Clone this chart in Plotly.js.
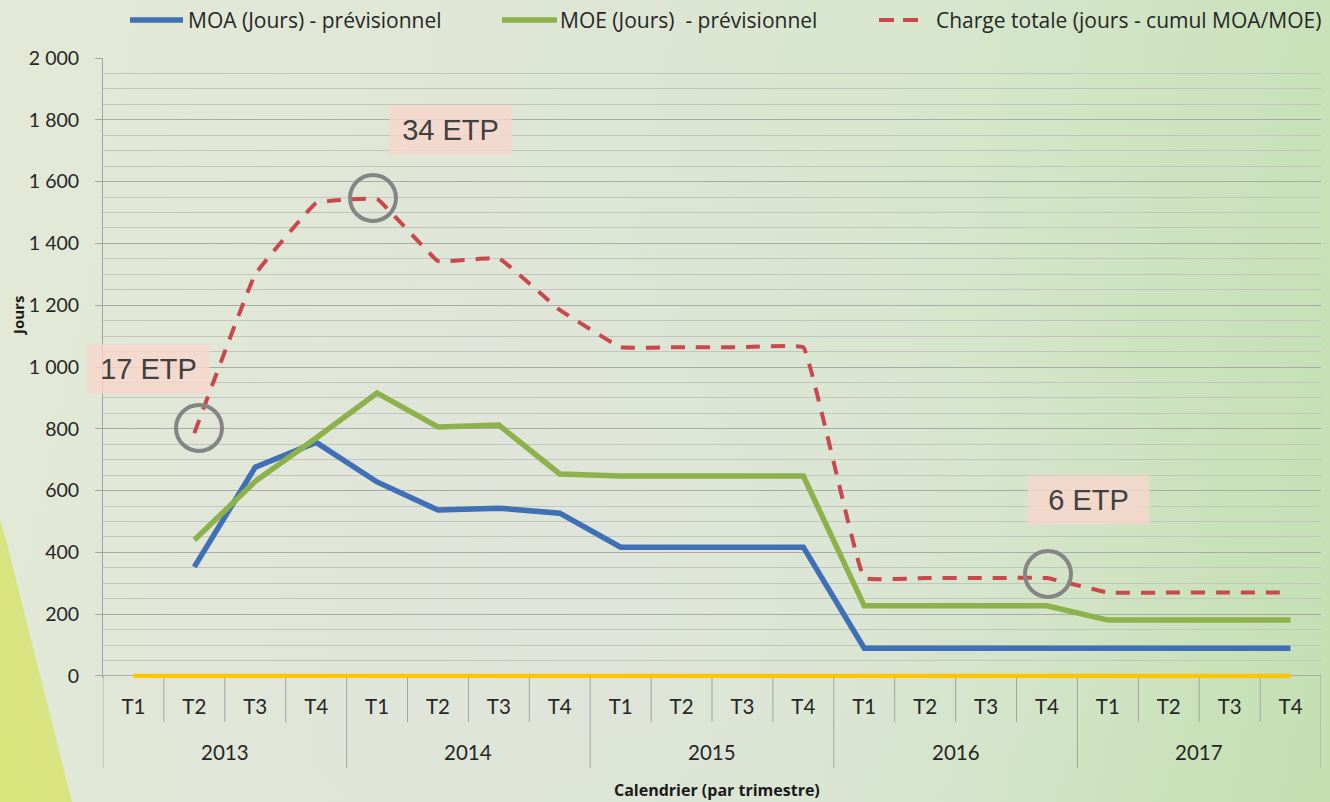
<!DOCTYPE html>
<html>
<head>
<meta charset="utf-8">
<script src="https://cdn.plot.ly/plotly-3.0.1.min.js"></script>
<style>
  html, body { margin: 0; padding: 0; }
  body { width: 1330px; height: 802px; overflow: hidden; position: relative;
    background: linear-gradient(100deg, #e3e9d6 0%, #dfe6d6 35%, #d6e6cc 65%, #c4e0b2 100%); }
  #wedge { position: absolute; left: 0; top: 0; width: 1330px; height: 802px;
    background: #d8e47c; clip-path: polygon(0px 520px, 6px 540px, 72px 802px, 0px 802px); }
  #shade { position: absolute; left: 0; top: 0; width: 1330px; height: 802px;
    background: radial-gradient(ellipse at 45% 75%, rgba(225,228,222,0.7) 0%, rgba(225,228,222,0) 60%); }
  #chart { position: absolute; left: 0; top: 0; width: 1330px; height: 802px; }
</style>
</head>
<body>
<div id="wedge"></div>
<div id="shade"></div>
<div id="chart"></div>
<script>
// ---- data ----
const years = ['2013', '2014', '2015', '2016', '2017'];
const quarters = ['T1', 'T2', 'T3', 'T4'];
const moa = [null, 353, 676, 756, 628, 537, 543, 527, 417, 417, 417, 417, 90, 90, 90, 90, 90, 90, 90, 90];
const moe = [null, 440, 630, 770, 916, 806, 812, 654, 647, 647, 647, 647, 227, 227, 227, 227, 181, 181, 181, 181];
const chargeTotale = [null, 786, 1300, 1531, 1544, 1343, 1352, 1185, 1064, 1064, 1064, 1064, 317, 317, 317, 317, 270, 270, 270, 270];
const baseline = [0, 0, 0, 0, 0, 0, 0, 0, 0, 0, 0, 0, 0, 0, 0, 0, 0, 0, 0, 0];
const seriesNames = ['MOA (Jours) - prévisionnel', 'MOE (Jours)  - prévisionnel', 'Charge totale (jours - cumul MOA/MOE)'];
const etpLabels = ['17 ETP', '34 ETP', '6 ETP'];
const xTitle = 'Calendrier (par trimestre)';
const yTitle = 'Jours';

// ---- layout helpers (pixel -> paper) ----
const W = 1330, H = 802;
const M = { l: 103, r: 9, t: 58, b: 124 };
const Y_MIN = -6.5;           // small pad so the zero line is not clipped
const PW = W - M.l - M.r, PH = H - M.t - M.b;
const px = x => (x - M.l) / PW;
const py = y => (H - M.b - y) / PH;

const xCats = [], xQuarter = [];
years.forEach(y => quarters.forEach(q => { xCats.push(y + ' ' + q); xQuarter.push(q); }));
const nCat = xCats.length;

const BLUE = '#3f70b6', GREEN = '#8db14b', RED = '#c9484b', YELLOW = '#ffc400';
const AXC = '#a3a3a3';

const traces = [
  { x: xCats, y: baseline, type: 'scatter', mode: 'lines', line: { color: YELLOW, width: 4.5 }, showlegend: false, hoverinfo: 'skip' },
  { x: xCats, y: moa, name: seriesNames[0], type: 'scatter', mode: 'lines', line: { color: BLUE, width: 5.5 }, showlegend: false },
  { x: xCats, y: moe, name: seriesNames[1], type: 'scatter', mode: 'lines', line: { color: GREEN, width: 5.5 }, showlegend: false },
  { x: xCats, y: chargeTotale, name: seriesNames[2], type: 'scatter', mode: 'lines',
    line: { color: RED, width: 4, dash: '14px,11px', shape: 'spline', smoothing: 0.2 }, showlegend: false }
];

const FONT = 'Lato, "Open Sans", sans-serif';
const FONT2 = '"Open Sans", Lato, sans-serif';
const shapes = [];
const annotations = [];

// category separators (quarters short, years long)
for (let i = 0; i <= nCat; i++) {
  const isYear = i % quarters.length === 0;
  shapes.push({ type: 'line', xref: 'x', yref: 'paper', x0: i - 0.5, x1: i - 0.5,
    y0: py(676), y1: py(isYear ? 768 : 722), line: { color: AXC, width: 1 }, layer: 'below' });
}
// year labels
years.forEach((y, k) => annotations.push({
  xref: 'x', yref: 'paper', x: k * quarters.length + (quarters.length - 1) / 2, y: py(752),
  xanchor: 'center', yanchor: 'middle', text: y, showarrow: false,
  font: { family: FONT, size: 20.5, color: '#262626' }
}));

// manual legend
const legendY = py(20);
shapes.push({ type: 'line', xref: 'paper', yref: 'paper', x0: px(130), x1: px(183), y0: legendY, y1: legendY, line: { color: BLUE, width: 5.5 } });
shapes.push({ type: 'line', xref: 'paper', yref: 'paper', x0: px(502), x1: px(557), y0: legendY, y1: legendY, line: { color: GREEN, width: 5.5 } });
shapes.push({ type: 'line', xref: 'paper', yref: 'paper', x0: px(879), x1: px(918), y0: legendY, y1: legendY, line: { color: RED, width: 4, dash: '15px,9px' } });
[[186, 0], [558, 1], [934, 2]].forEach(([x, i]) => annotations.push({
  xref: 'paper', yref: 'paper', x: px(x), y: legendY, xanchor: 'left', yanchor: 'middle',
  text: seriesNames[i], showarrow: false, font: { family: FONT2, size: 21, color: '#262626' }
}));

// circles
[[199, 428], [373, 198], [1048, 574]].forEach(([cx, cy]) => shapes.push({
  type: 'circle', xref: 'paper', yref: 'paper',
  x0: px(cx - 23), x1: px(cx + 23), y0: py(cy + 23), y1: py(cy - 23),
  line: { color: '#858585', width: 4 }
}));

// ETP boxes
[[148, 369, 0], [450, 130, 1], [1088, 500, 2]].forEach(([cx, cy, i]) => annotations.push({
  xref: 'paper', yref: 'paper', x: px(cx), y: py(cy), xanchor: 'center', yanchor: 'middle',
  text: etpLabels[i], showarrow: false, width: 119, height: 46, borderpad: 1,
  bgcolor: 'rgba(246,214,204,0.82)',
  font: { family: '"Liberation Sans", Arial, sans-serif', size: 29, color: '#404040' }
}));

// axis titles
annotations.push({ xref: 'paper', yref: 'paper', x: px(717), y: py(790), xanchor: 'center', yanchor: 'middle',
  text: '<b>' + xTitle + '</b>', showarrow: false, font: { family: FONT2, size: 16, color: '#1a1a1a' } });
annotations.push({ xref: 'paper', yref: 'paper', x: px(18), y: py(316), xanchor: 'center', yanchor: 'middle',
  text: '<b>' + yTitle + '</b>', textangle: -90, showarrow: false, font: { family: FONT2, size: 15, color: '#1a1a1a' } });

const layout = {
  width: W, height: H,
  margin: M,
  paper_bgcolor: 'rgba(0,0,0,0)',
  plot_bgcolor: 'rgba(0,0,0,0)',
  separators: ', ',
  showlegend: false,
  font: { family: FONT, color: '#262626' },
  xaxis: {
    type: 'category',
    range: [-0.5, nCat - 0.5],
    tickvals: xCats, ticktext: xQuarter,
    ticks: '', showgrid: false,
    showline: false,
    ticklabelstandoff: 14,
    tickfont: { family: FONT, size: 20.5, color: '#262626' }
  },
  yaxis: {
    range: [Y_MIN, 2000], tickvals: [0, 200, 400, 600, 800, 1000, 1200, 1400, 1600, 1800, 2000], tickformat: ',d',
    showgrid: true, gridcolor: '#a9aba6', gridwidth: 1,
    minor: { dtick: 50, tick0: 0, showgrid: true, gridcolor: '#c3c6bf', gridwidth: 1 },
    ticks: 'outside', ticklen: 7, tickcolor: AXC,
    showline: true, linecolor: AXC, linewidth: 1,
    zeroline: false,
    ticklabelstandoff: 12,
    tickfont: { family: FONT, size: 19.5, color: '#262626' }
  },
  shapes: shapes,
  annotations: annotations
};

Plotly.newPlot('chart', traces, layout, { displayModeBar: false, staticPlot: true });
</script>
</body>
</html>
